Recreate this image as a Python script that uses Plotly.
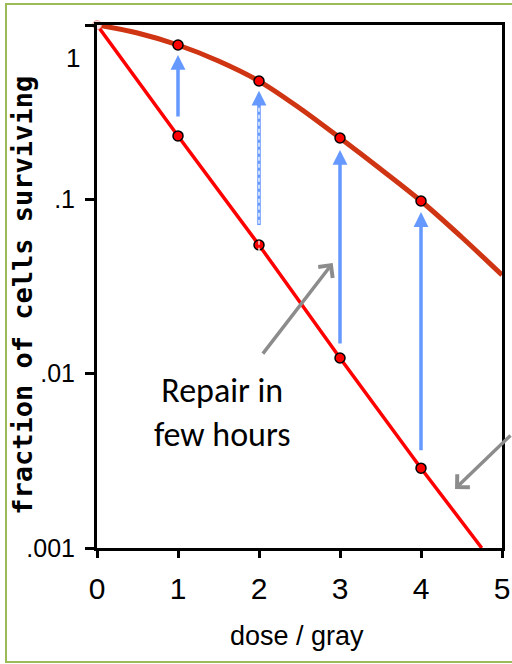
import math
import plotly.graph_objects as go

# ---------------- data ----------------
dose_ticks = [0, 1, 2, 3, 4, 5]
dose_tick_labels = ["0", "1", "2", "3", "4", "5"]
surv_ticks = [0.001, 0.01, 0.1, 1]
surv_tick_labels = [".001", ".01", ".1", ""]

# single-hit (no repair) curve
lower_dose = [0, 1, 2, 3, 4, 4.75]
lower_surv = [1.0, 0.231, 0.0547, 0.0123, 0.00287, 0.001]

# curve with repair (shoulder), read every half gray
upper_dose = [0, 0.5, 1, 1.5, 2, 2.5, 3, 3.5, 4, 4.5, 5]
upper_surv = [1.0, 0.900, 0.768, 0.622, 0.477, 0.334, 0.2247, 0.1493, 0.0978,
              0.0608, 0.0368]

# measured points
point_dose = [1, 2, 3, 4]
point_lower = [0.231, 0.0547, 0.0123, 0.00287]
point_upper = [0.768, 0.477, 0.2247, 0.0978]

# blue "repair" arrows (from -> to)
repair_dose = [1, 2, 3, 4]
repair_from = [0.293, 0.0712, 0.0146, 0.00356]
repair_to = [0.673, 0.420, 0.192, 0.0846]
dashed_white_from = 0.0500
dashed_white_to = 0.370

# grey pointer arrows: head position (dose, survival), tail offset in px
pointer_dose = [2.91, 4.42]
pointer_surv = [0.0431, 0.00218]
pointer_tail_dx = [-71, 80]
pointer_tail_dy = [92, -55]

note_text = "Repair in<br>few hours"
note_dose = 1.55
note_surv = 0.00595

# ---------------- style ----------------
RED = "#FF0000"
DARK_RED = "#CF3413"
BLUE = "#6699FF"
GREY = "#8C8C8C"
GREEN = "#9BBB59"
TICK_FONT = "Liberation Sans Narrow, Arial Narrow, Liberation Sans, Arial, sans-serif"

fig = go.Figure()

fig.add_trace(go.Scatter(x=lower_dose, y=lower_surv, mode="lines",
                         line=dict(color=RED, width=3.5), hoverinfo="skip",
                         showlegend=False))
fig.add_trace(go.Scatter(x=upper_dose, y=upper_surv, mode="lines",
                         line=dict(color=DARK_RED, width=5, shape="spline",
                                   smoothing=1.0),
                         hoverinfo="skip", showlegend=False))
# origin marker (pale)
fig.add_trace(go.Scatter(x=[upper_dose[0]], y=[upper_surv[0]], mode="markers",
                         marker=dict(size=9, color="#FBE3E3",
                                     line=dict(color="#F0A0A0", width=1)),
                         cliponaxis=False, showlegend=False, hoverinfo="skip"))
fig.add_trace(go.Scatter(x=point_dose + point_dose, y=point_lower + point_upper,
                         mode="markers",
                         marker=dict(size=10, color=RED,
                                     line=dict(color="black", width=1.5)),
                         showlegend=False, hoverinfo="skip"))

# dashed arrow shaft at dose 2 (blue, with white dashes on top)
i2 = repair_dose.index(2)
fig.add_trace(go.Scatter(x=[2, 2], y=[repair_from[i2], repair_to[i2] * 0.9],
                         mode="lines", line=dict(color=BLUE, width=3.5),
                         showlegend=False, hoverinfo="skip"))
fig.add_trace(go.Scatter(x=[2, 2], y=[dashed_white_from, dashed_white_to],
                         mode="lines",
                         line=dict(color="white", width=1.3, dash="4px,3px"),
                         showlegend=False, hoverinfo="skip"))

annotations = []
for d, s0, s1 in zip(repair_dose, repair_from, repair_to):
    tail = s0 if d != 2 else s1 * 0.8
    annotations.append(dict(
        x=d, y=math.log10(s1), xref="x", yref="y",
        ax=d, ay=math.log10(tail), axref="x", ayref="y",
        showarrow=True, arrowhead=2, arrowsize=0.85, arrowwidth=3.5,
        arrowcolor=BLUE, text="", standoff=0))

for d, s, dx, dy in zip(pointer_dose, pointer_surv, pointer_tail_dx, pointer_tail_dy):
    annotations.append(dict(
        x=d, y=math.log10(s), xref="x", yref="y",
        ax=dx, ay=dy, showarrow=True, arrowhead=4, arrowsize=1.0,
        arrowwidth=3.5, arrowcolor=GREY, text="", standoff=0))

annotations.append(dict(
    x=note_dose, y=math.log10(note_surv), xref="x", yref="y",
    text=note_text, showarrow=False, align="center",
    font=dict(family="Carlito, Calibri, Lato, sans-serif", size=34, color="black"),
    xanchor="center", yanchor="middle"))

# misplaced "1" label of the y axis (as in the original figure)
annotations.append(dict(
    x=-0.037, y=math.log10(0.646), xref="paper", yref="y", text="1",
    showarrow=False, xanchor="right", yanchor="middle",
    font=dict(family=TICK_FONT, size=26, color="black")))

# axis titles
annotations.append(dict(
    x=-0.183, y=0.484, xref="paper", yref="paper",
    text="<b>fraction of cells surviving</b>", textangle=-90, showarrow=False,
    xanchor="center", yanchor="middle",
    font=dict(family="DejaVu Sans Mono, monospace", size=27, color="black")))
annotations.append(dict(
    x=0.493, y=-0.168, xref="paper", yref="paper", text="dose / gray",
    showarrow=False, xanchor="center", yanchor="middle",
    font=dict(family=TICK_FONT, size=27, color="black")))

shapes = [dict(type="rect", xref="paper", yref="paper",
               x0=-0.2247, x1=1.1, y0=-0.218, y1=1.040,
               line=dict(color=GREEN, width=2), fillcolor="rgba(0,0,0,0)",
               layer="below")]

fig.update_layout(
    width=512, height=664,
    margin=dict(l=97, r=10, t=25, b=116, autoexpand=False),
    paper_bgcolor="white", plot_bgcolor="white",
    annotations=annotations, shapes=shapes,
    xaxis=dict(range=[0, 5], tickvals=dose_ticks, ticktext=dose_tick_labels,
               showgrid=False, zeroline=False, showline=True, linecolor="black",
               linewidth=3, mirror=True, ticks="outside", ticklen=7, tickwidth=2.5,
               tickcolor="black", ticklabelstandoff=5, automargin=False,
               tickfont=dict(family=TICK_FONT, size=30, color="black")),
    yaxis=dict(type="log", range=[-3, 0], tickvals=surv_ticks, ticktext=surv_tick_labels,
               showgrid=False, zeroline=False, showline=True, linecolor="black",
               linewidth=3, mirror=True, ticks="outside", ticklen=9, tickwidth=3,
               tickcolor="black", ticklabelstandoff=5, automargin=False,
               tickfont=dict(family=TICK_FONT, size=25, color="black")),
)

fig.write_html("out.html",
               config={"displayModeBar": False},
               post_script="document.body.style.margin='0px';"
                           "document.body.style.overflow='hidden';")
